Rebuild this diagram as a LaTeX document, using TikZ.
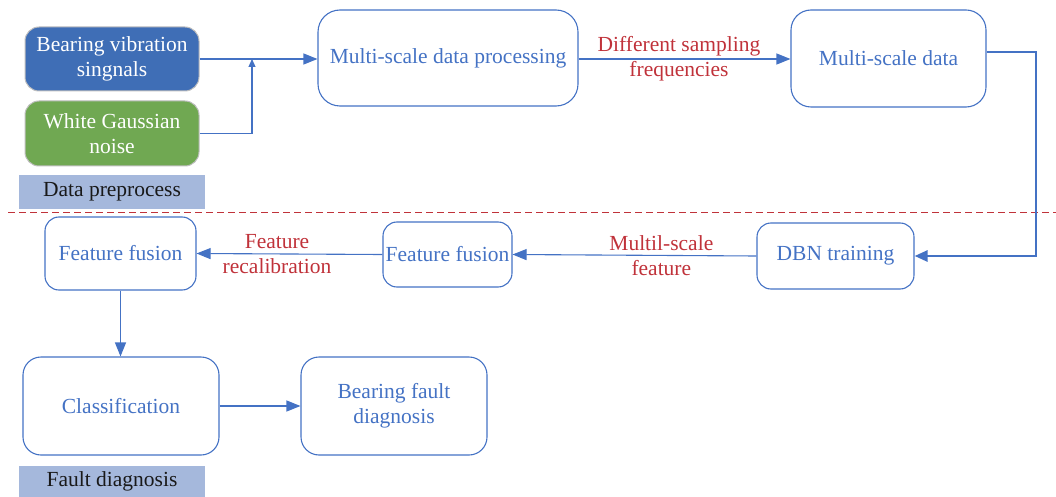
\documentclass[tikz,border=0pt]{standalone}
\usepackage{fontspec}
\setmainfont{Liberation Serif}
\usetikzlibrary{arrows.meta}
\definecolor{lblue}{RGB}{68,114,196}
\definecolor{dblue}{RGB}{63,110,182}
\definecolor{lgreen}{RGB}{112,168,82}
\definecolor{lred}{RGB}{192,50,58}
\definecolor{pblue}{RGB}{165,184,220}
\begin{document}
\begin{tikzpicture}[x=1pt,y=-1pt,
  txt/.style={font=\fontsize{21.5}{25}\selectfont},
  box/.style={txt,draw=lblue,line width=1.1pt,rounded corners=14pt,text=lblue,align=center,inner sep=0pt},
  fbox/.style={txt,draw=black!25,line width=1pt,rounded corners=14pt,text=white,align=center,inner sep=0pt},
  tag/.style={txt,fill=pblue,text=black!90,inner sep=0pt},
  lab/.style={txt,text=lred,align=center,inner sep=0pt},
  conn/.style={draw=lblue,line width=1.1pt,-{Triangle[length=14pt,width=11pt]}},
  sconn/.style={draw=lblue,line width=1.1pt,-{Triangle[length=8pt,width=7pt]}},
  tconn/.style={draw=lblue,line width=2.6pt,-{Triangle[length=13pt,width=11pt]}}]
\useasboundingbox (0,0) rectangle (1056,497);
% preprocess boxes
\node[fbox,fill=dblue,minimum width=174pt,minimum height=64pt] (bvs) at (112,59) {Bearing vibration\\singnals};
\node[fbox,fill=lgreen,minimum width=174pt,minimum height=65pt] (wgn) at (112,133.5) {White Gaussian\\noise};
\node[tag,minimum width=186pt,minimum height=34pt] (dp) at (112,192) {Data preprocess};
\node[box,rounded corners=22pt,minimum width=260pt,minimum height=96pt] (msdp) at (448,58) {Multi-scale data processing};
\node[box,rounded corners=20pt,minimum width=195pt,minimum height=97pt] (msd) at (888.5,58.5) {Multi-scale data};
% separator
\draw[lred,line width=1pt,dash pattern=on 7pt off 4pt] (8,212) -- (1056,212);
% lower
\node[box,minimum width=157pt,minimum height=66pt] (dbn) at (835.5,256) {DBN training};
\node[box,minimum width=129pt,minimum height=65pt] (ffm) at (447.5,254.5) {Feature fusion};
\node[box,minimum width=151pt,minimum height=73pt] (ffl) at (120.5,253.5) {Feature fusion};
\node[box,rounded corners=18pt,minimum width=196pt,minimum height=98pt] (cls) at (121,406) {Classification};
\node[box,rounded corners=18pt,minimum width=186pt,minimum height=98pt] (bfd) at (394,406) {Bearing fault\\diagnosis};
\node[tag,minimum width=186pt,minimum height=31pt] (fd) at (112,481.5) {Fault diagnosis};
% connectors
\coordinate (j) at (252,59);
\draw[conn] (bvs.east) -- (bvs.east -| msdp.west);
\draw[sconn] (wgn.east) -| (j);
\draw[conn] (msdp.east |- bvs.east) -- node[lab,pos=0.474] {Different sampling\\frequencies} (msd.west |- bvs.east);
\coordinate (c1) at (1036,52);
\draw[tconn] (msd.east |- c1) -- (c1) |- (dbn.east);
\draw[conn] (dbn.west) -- node[lab,pos=0.39] {Multil-scale\\feature} (ffm.east);
\draw[conn] (ffm.west) -- node[lab,pos=0.567] {Feature\\recalibration} (ffl.east);
\draw[conn] (ffl.south) -- (ffl.south |- cls.north);
\draw[conn] (cls.east) -- (bfd.west);
\end{tikzpicture}
\end{document}
